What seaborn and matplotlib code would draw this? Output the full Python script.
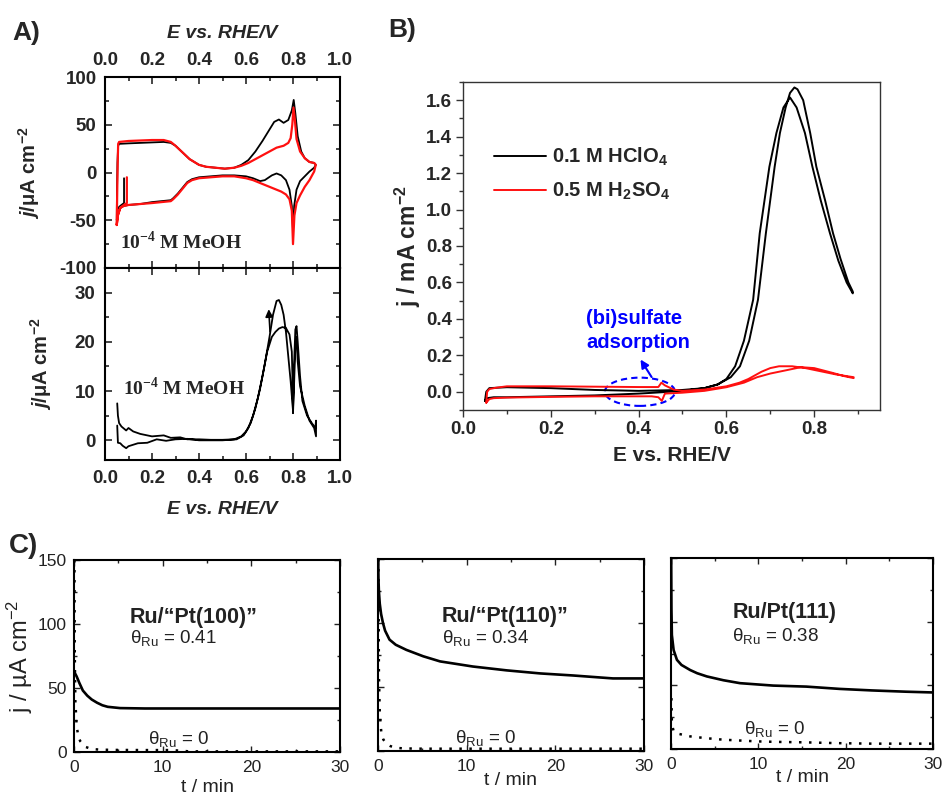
import numpy as np
import pandas as pd
import matplotlib
matplotlib.use("Agg")
import matplotlib.pyplot as plt
import seaborn as sns
from matplotlib.patches import Ellipse
from matplotlib.ticker import MultipleLocator

# ---------------------------------------------------------------- data
# (A, upper) blank voltammograms: E / V vs RHE, j / uA cm-2
cv_blank_black = [
    (0.081, -6), (0.081, -32), (0.07, -34), (0.06, -36), (0.054, -42), (0.050, -50),
    (0.051, -20), (0.053, 10), (0.056, 28), (0.06, 30), (0.10, 30.5), (0.15, 31), (0.20, 31.5),
    (0.25, 32), (0.28, 31), (0.30, 28), (0.33, 21), (0.36, 14), (0.40, 8), (0.43, 6),
    (0.47, 5), (0.51, 4), (0.55, 5), (0.58, 8), (0.61, 13), (0.64, 22), (0.67, 33),
    (0.70, 45), (0.72, 53), (0.74, 55.5), (0.76, 52), (0.78, 55), (0.795, 65), (0.803, 76),
    (0.81, 62), (0.82, 38), (0.835, 22), (0.85, 15), (0.87, 11), (0.89, 10), (0.897, 8),
    (0.89, 5), (0.87, 1), (0.85, -4), (0.83, -9), (0.815, -18), (0.805, -35), (0.800, -60),
    (0.795, -35), (0.785, -18), (0.77, -8), (0.75, -3), (0.73, -1), (0.71, -3), (0.68, -8),
    (0.66, -9), (0.63, -6), (0.60, -4), (0.55, -3), (0.50, -3), (0.45, -4), (0.40, -5),
    (0.37, -7), (0.35, -10), (0.33, -16), (0.31, -22), (0.29, -27), (0.28, -29), (0.20, -31),
    (0.15, -33), (0.10, -34), (0.08, -35), (0.065, -37), (0.058, -42), (0.052, -48), (0.050, -52),
]
cv_blank_red = [
    (0.093, -5), (0.093, -32), (0.08, -34), (0.065, -37), (0.055, -45), (0.050, -55),
    (0.052, -20), (0.054, 10), (0.056, 30), (0.06, 32), (0.10, 33), (0.15, 33.5), (0.20, 34),
    (0.25, 34), (0.28, 32), (0.30, 28), (0.33, 21), (0.36, 14), (0.40, 8), (0.43, 6),
    (0.47, 5), (0.51, 4), (0.55, 5), (0.58, 7), (0.61, 10), (0.64, 14), (0.67, 18),
    (0.70, 22), (0.73, 26), (0.76, 28), (0.78, 31), (0.79, 36), (0.797, 50), (0.802, 68),
    (0.808, 55), (0.815, 35), (0.83, 22), (0.85, 15), (0.87, 11), (0.89, 10), (0.897, 8),
    (0.89, 1), (0.87, -8), (0.85, -15), (0.83, -24), (0.815, -32), (0.806, -45), (0.800, -75),
    (0.795, -40), (0.785, -28), (0.77, -23), (0.75, -20), (0.72, -17), (0.69, -14), (0.66, -11),
    (0.63, -8), (0.60, -6), (0.55, -4), (0.50, -4), (0.45, -5), (0.40, -6), (0.37, -8),
    (0.35, -11), (0.33, -17), (0.31, -23), (0.29, -28), (0.28, -30), (0.20, -32), (0.15, -33),
    (0.10, -34), (0.08, -35), (0.065, -37), (0.055, -44), (0.050, -55),
]

# (A, lower) methanol oxidation, 1e-4 M MeOH
cv_meoh = [
    (0.052, 7.5), (0.055, 5), (0.06, 3.5), (0.07, 2.8), (0.09, 2), (0.10, 2.5), (0.12, 1.8),
    (0.15, 1.3), (0.20, 0.8), (0.25, 1.0), (0.28, 0.5), (0.32, 0.6), (0.35, 0.2), (0.40, 0.2),
    (0.45, 0.1), (0.50, 0.1), (0.55, 0.2), (0.58, 0.8), (0.60, 1.8), (0.62, 3.5), (0.64, 6.5),
    (0.66, 10.5), (0.68, 15.5), (0.70, 21), (0.715, 25.5), (0.73, 28.3), (0.74, 28.5),
    (0.75, 27.5), (0.76, 25.5), (0.77, 22), (0.78, 17), (0.79, 12), (0.80, 6), (0.802, 10),
    (0.805, 16), (0.81, 22.5), (0.815, 23.2), (0.82, 20), (0.83, 13), (0.84, 8), (0.86, 5),
    (0.88, 3.5), (0.895, 2.5), (0.898, 4),
    (0.898, 0.8), (0.89, 2.5), (0.87, 4), (0.85, 7), (0.83, 11), (0.82, 16), (0.815, 21),
    (0.81, 19), (0.805, 12), (0.80, 5.5), (0.798, 12), (0.795, 18), (0.785, 21.5), (0.77, 22.8),
    (0.755, 23), (0.74, 22.7), (0.725, 22), (0.71, 21), (0.69, 18), (0.67, 13), (0.65, 8.5),
    (0.63, 5), (0.61, 2.5), (0.59, 1), (0.56, 0.2), (0.50, 0), (0.40, 0), (0.35, 0.3),
    (0.30, 0.2), (0.26, -0.1), (0.22, 0.2), (0.18, -0.5), (0.14, -0.6), (0.10, -1.2),
    (0.09, -1.6), (0.075, -1.1), (0.065, -0.6), (0.055, -0.5), (0.052, 3),
]

# (B) j / mA cm-2 in the two electrolytes
cv_hclo4 = [
    (0.050, -0.05), (0.055, -0.035), (0.07, -0.03), (0.10, -0.03), (0.20, -0.025),
    (0.30, -0.02), (0.40, -0.01), (0.45, -0.003), (0.50, 0.005), (0.55, 0.02), (0.58, 0.04),
    (0.60, 0.07), (0.62, 0.14), (0.64, 0.28), (0.661, 0.505), (0.676, 0.87), (0.698, 1.235),
    (0.714, 1.42), (0.73, 1.56), (0.745, 1.615), (0.76, 1.56), (0.779, 1.42), (0.796, 1.235),
    (0.815, 1.05), (0.836, 0.87), (0.855, 0.72), (0.874, 0.60), (0.888, 0.54),
    (0.888, 0.55), (0.878, 0.60), (0.86, 0.73), (0.843, 0.87), (0.825, 1.05), (0.805, 1.235),
    (0.791, 1.42), (0.775, 1.60), (0.762, 1.66), (0.755, 1.67), (0.745, 1.64), (0.735, 1.56),
    (0.722, 1.42), (0.71, 1.235), (0.69, 0.87), (0.672, 0.505), (0.652, 0.28), (0.631, 0.14),
    (0.61, 0.08), (0.58, 0.04), (0.55, 0.02), (0.50, 0.01), (0.40, 0.005), (0.30, 0.01),
    (0.20, 0.02), (0.10, 0.025), (0.06, 0.02), (0.053, 0.0), (0.050, -0.05),
]
cv_h2so4 = [
    (0.053, -0.06), (0.055, 0.0), (0.06, 0.015), (0.075, 0.022), (0.10, 0.03), (0.20, 0.03),
    (0.30, 0.028), (0.40, 0.026), (0.445, 0.026), (0.452, 0.05), (0.46, 0.035), (0.48, 0.012),
    (0.50, 0.005), (0.55, 0.012), (0.60, 0.03), (0.63, 0.05), (0.65, 0.07), (0.68, 0.11),
    (0.70, 0.13), (0.72, 0.14), (0.75, 0.14), (0.78, 0.13), (0.80, 0.12), (0.85, 0.095),
    (0.89, 0.08),
    (0.89, 0.075), (0.87, 0.085), (0.84, 0.105), (0.80, 0.13), (0.77, 0.135), (0.74, 0.12),
    (0.70, 0.10), (0.67, 0.08), (0.64, 0.05), (0.60, 0.025), (0.55, 0.005), (0.50, -0.005),
    (0.46, -0.01), (0.453, -0.05), (0.445, -0.03), (0.43, -0.025), (0.30, -0.025),
    (0.20, -0.028), (0.10, -0.032), (0.07, -0.035), (0.06, -0.04), (0.053, -0.06),
]
legend_labels = ["0.1 M HClO$_4$", "0.5 M H$_2$SO$_4$"]

# (C) chronoamperometry: t / min, j / uA cm-2
ca_titles = ["Ru/\u201cPt(100)\u201d", "Ru/\u201cPt(110)\u201d", "Ru/Pt(111)"]
ca_theta = ["0.41", "0.34", "0.38"]
ca_t_ru = [
    [0, 0.3, 0.6, 1.0, 1.5, 2.0, 2.6, 3.2, 3.8, 4.5, 5.2, 8, 12, 16, 20, 25, 30],
    [0.02, 0.05, 0.1, 0.2, 0.35, 0.56, 0.8, 1.3, 2, 3.2, 5.1, 7, 10.7, 14.5, 18.3, 22, 26.5, 30],
    [0.02, 0.05, 0.1, 0.3, 0.68, 1.2, 2.2, 3, 4.1, 6, 7.9, 11.7, 15.5, 19.3, 23, 26.9, 30],
]
ca_j_ru = [
    [63, 59, 54, 48, 44, 41, 38.5, 36.5, 35.3, 34.8, 34.3, 34, 34, 34, 34, 34, 34],
    [150, 135, 125, 115, 107, 100, 94, 87, 83, 79, 74, 70, 66, 63, 60.6, 59, 56.7, 56.7],
    [150, 110, 89.5, 77.7, 70, 66, 62, 59.5, 57, 54, 51.7, 49.8, 49, 47.2, 46, 45, 44.4],
]
ca_t_pt = [
    [0.05, 0.08, 0.15, 0.3, 0.5, 0.7, 1.0, 1.3, 1.7, 2.2, 3, 5, 8, 11, 13, 20, 25, 30],
    [0.05, 0.1, 0.2, 0.38, 0.6, 0.94, 1.4, 2.1, 3, 5, 10, 15, 20, 25, 30],
    [0.05, 0.1, 0.3, 0.8, 2.2, 4, 6, 9.8, 12, 15.5, 19, 23, 26, 30],
]
ca_j_pt = [
    [150, 80, 40, 20, 12, 8.5, 6, 4, 3, 2.2, 1.8, 1.6, 1.5, 1.5, 0.5, 0.5, 0.5, 0.5],
    [150, 60, 30, 13.6, 9, 5.7, 3.8, 2.4, 2, 1.8, 1.8, 1.8, 1.8, 1.8, 1.8],
    [40, 20, 13.8, 12, 9.9, 8.5, 7.3, 6, 5.6, 5.2, 4.6, 4.2, 4.2, 4.2],
]

# tick values
a_xticks = [0.0, 0.2, 0.4, 0.6, 0.8, 1.0]
a_top_yticks = [-100, -50, 0, 50, 100]
a_bot_yticks = [0, 10, 20, 30]
b_xticks = [0.0, 0.2, 0.4, 0.6, 0.8]
b_yticks = [0.0, 0.2, 0.4, 0.6, 0.8, 1.0, 1.2, 1.4, 1.6]
c_xticks = [0, 10, 20, 30]
c_yticks = [0, 50, 100, 150]

# ---------------------------------------------------------------- style
sns.set_theme(style="ticks")
plt.rcParams["font.family"] = ["Liberation Sans", "DejaVu Sans"]
plt.rcParams["axes.unicode_minus"] = False
plt.rcParams["mathtext.fontset"] = "custom"
plt.rcParams["mathtext.rm"] = "Liberation Sans:bold"
plt.rcParams["mathtext.bf"] = "Liberation Sans:bold"
plt.rcParams["mathtext.it"] = "Liberation Sans:italic:bold"
plt.rcParams["mathtext.sf"] = "Liberation Sans"
plt.rcParams["mathtext.cal"] = "Liberation Serif:bold"

W, H = 943, 796
fig = plt.figure(figsize=(W / 100, H / 100), dpi=100)
fig.patch.set_facecolor("white")

A_YLABEL = "$j$/μA cm$^{-2}$"
C_YLABEL = "j / µA cm$^{\\mathsf{-2}}$"
THETA = "$\\mathsf{θ}_{\\mathsf{Ru}}$"
MEOH = "10$^{\\mathcal{-4}}$ M MeOH"


def box(l, t, r, b):
    return fig.add_axes([l / W, 1 - b / H, (r - l) / W, (b - t) / H])


def curve(ax, pts, color, lw=1.3, ls="-", label=None):
    df = pd.DataFrame(pts, columns=["E", "j"])
    sns.lineplot(data=df, x="E", y="j", sort=False, estimator=None, color=color,
                 lw=lw, linestyle=ls, ax=ax, label=label)
    if label is None and ax.get_legend() is not None:
        ax.get_legend().remove()


def fmt(vals, nd):
    return [f"{v:.{nd}f}" for v in vals]


def frame(ax, lw, color="black"):
    for s in ax.spines.values():
        s.set_visible(True)
        s.set_linewidth(lw)
        s.set_color(color)


# ---------------------------------------------------------------- A upper
ax1 = box(105, 77, 340, 268)
curve(ax1, cv_blank_black, "black", 1.3)
curve(ax1, cv_blank_red, "#ff1010", 1.6)
ax1.set_xlim(0, 1.0)
ax1.set_ylim(-100, 100)
ax1.set_xticks(a_xticks, labels=fmt(a_xticks, 1), fontsize=13.5, fontweight="bold")
ax1.set_yticks(a_top_yticks, labels=[str(v) for v in a_top_yticks], fontsize=13.5, fontweight="bold")
ax1.xaxis.set_minor_locator(MultipleLocator(0.1))
ax1.yaxis.set_minor_locator(MultipleLocator(25))
ax1.tick_params(which="both", direction="in", top=True, right=True, bottom=True, left=True,
                labeltop=True, labelbottom=False, width=1.2, pad=6)
ax1.tick_params(which="major", length=5)
ax1.tick_params(which="minor", length=3)
ax1.xaxis.set_label_position("top")
ax1.set_xlabel("E vs. RHE/V", fontsize=14, fontweight="bold", fontstyle="italic", labelpad=10)
ax1.set_ylabel(A_YLABEL, fontsize=14.5, fontweight="bold")
ax1.yaxis.set_label_coords(-0.27, 0.5)
ax1.text(0.065, -72, MEOH, family="Liberation Serif",
         fontsize=14, fontweight="bold", va="center", ha="left")
frame(ax1, 1.5)

# ---------------------------------------------------------------- A lower
ax2 = box(105, 268, 340, 460)
curve(ax2, cv_meoh, "black", 1.3)
ax2.annotate("", xy=(0.696, 27.2), xytext=(0.703, 21.5),
             arrowprops=dict(arrowstyle="-|>", color="black", lw=1.2, mutation_scale=11))
ax2.set_xlim(0, 1.0)
ax2.set_ylim(-4, 35)
ax2.set_xticks(a_xticks, labels=fmt(a_xticks, 1), fontsize=13.5, fontweight="bold")
ax2.set_yticks(a_bot_yticks, labels=[str(v) for v in a_bot_yticks], fontsize=13.5, fontweight="bold")
ax2.xaxis.set_minor_locator(MultipleLocator(0.1))
ax2.yaxis.set_minor_locator(MultipleLocator(5))
ax2.tick_params(which="both", direction="in", top=True, right=True, width=1.2, pad=7)
ax2.tick_params(which="major", length=5)
ax2.tick_params(which="minor", length=3)
ax2.set_xlabel("E vs. RHE/V", fontsize=14, fontweight="bold", fontstyle="italic", labelpad=10)
ax2.set_ylabel(A_YLABEL, fontsize=14.5, fontweight="bold")
ax2.yaxis.set_label_coords(-0.215, 0.5)
ax2.text(0.077, 10.7, MEOH, family="Liberation Serif",
         fontsize=14, fontweight="bold", va="center", ha="left")
frame(ax2, 1.5)

# ---------------------------------------------------------------- B
ax3 = box(463, 82, 880, 410)
curve(ax3, cv_hclo4, "black", 1.4, label=legend_labels[0])
curve(ax3, cv_h2so4, "#ff1010", 1.4, label=legend_labels[1])
ax3.set_xlim(0, 0.95)
ax3.set_ylim(-0.1, 1.7)
ax3.set_xticks(b_xticks, labels=fmt(b_xticks, 1), fontsize=13.5, fontweight="bold")
ax3.set_yticks(b_yticks, labels=fmt(b_yticks, 1), fontsize=13.5, fontweight="bold")
ax3.xaxis.set_minor_locator(MultipleLocator(0.1))
ax3.yaxis.set_minor_locator(MultipleLocator(0.1))
ax3.tick_params(which="both", direction="out", top=False, right=False, width=1.0, color="#333333")
ax3.tick_params(which="major", length=5, pad=3)
ax3.tick_params(which="minor", length=3)
ax3.set_xlabel("E vs. RHE/V", fontsize=15, fontweight="bold", labelpad=6)
ax3.set_ylabel("j / mA cm$^{-2}$", fontsize=16.5, fontweight="bold", labelpad=2)
frame(ax3, 1.0, "#333333")
ax3.legend(loc="upper left", bbox_to_anchor=(0.05, 0.835), frameon=False,
           prop=dict(family="Liberation Sans", weight="bold", size=14.5),
           handlelength=2.6, handletextpad=0.3, labelspacing=0.6, borderpad=0)
ax3.add_patch(Ellipse((0.403, 0.0), 0.16, 0.155, fill=False, ls=(0, (3, 2)),
                      edgecolor="blue", lw=1.5))
ax3.annotate("", xy=(0.401, 0.19), xytext=(0.433, 0.068),
             arrowprops=dict(arrowstyle="-|>", color="blue", lw=1.5, mutation_scale=12))
ax3.text(0.281, 0.335, "(bi)sulfate\nadsorption", color="blue", fontsize=14.5,
         fontweight="bold", va="center", ha="left", multialignment="left", linespacing=1.3)

# ---------------------------------------------------------------- C
c_boxes = [(74, 560, 340, 752), (378, 559, 644, 751), (671, 558, 933, 749)]
c_title_pos = [(6.3, 105), (7.2, 105), (7.0, 107.5)]
c_theta_pos = [(6.3, 89), (7.2, 88), (7.0, 89)]
c_zero_pos = [(8.3, 10), (8.7, 10), (8.4, 16)]
c_xlabel_y = [-0.185, -0.155, -0.147]
gray = "#222222"
for i, (l, t, r, b) in enumerate(c_boxes):
    ax = box(l, t, r, b)
    curve(ax, list(zip(ca_t_ru[i], ca_j_ru[i])), "black", 1.9)
    curve(ax, list(zip(ca_t_pt[i], ca_j_pt[i])), "black", 1.8, ls=(0, (1, 3)))
    ax.set_xlim(0, 30)
    ax.set_ylim(0, 150)
    ax.set_xticks(c_xticks, labels=[str(v) for v in c_xticks], fontsize=12.5, color=gray)
    if i == 0:
        ax.set_yticks(c_yticks, labels=[str(v) for v in c_yticks], fontsize=12.5, color=gray)
        ax.set_ylabel(C_YLABEL, fontsize=17, color=gray, labelpad=2)
    else:
        ax.set_yticks(c_yticks, labels=[])
        ax.set_ylabel("")
    ax.yaxis.set_minor_locator(MultipleLocator(25))
    ax.xaxis.set_minor_locator(MultipleLocator(5))
    ax.tick_params(which="both", direction="in", top=True, right=True, width=1.0, color=gray)
    ax.tick_params(axis="x", which="major", length=4, pad=6)
    ax.tick_params(axis="y", which="major", length=4, pad=5)
    ax.tick_params(which="minor", length=2)
    ax.set_xlabel("t / min", fontsize=14, color=gray)
    ax.xaxis.set_label_coords(0.5, c_xlabel_y[i])
    ax.xaxis.label.set_va("center")
    frame(ax, 1.5, "black")
    ax.text(*c_title_pos[i], ca_titles[i], fontsize=15.5, fontweight="bold", color=gray,
            va="center", ha="left")
    ax.text(*c_theta_pos[i], THETA + " = " + ca_theta[i], fontsize=13.5,
            color=gray, va="center", ha="left")
    ax.text(*c_zero_pos[i], THETA + " = 0", fontsize=13.5,
            color=gray, va="center", ha="left")

# ---------------------------------------------------------------- panel letters
fig.text(12 / W, 1 - 40 / H, "A)", fontsize=19, fontweight="bold", va="baseline")
fig.text(388 / W, 1 - 37 / H, "B)", fontsize=19, fontweight="bold", va="baseline")
fig.text(9 / W, 1 - 553 / H, "C)", fontsize=20, fontweight="bold", va="baseline")

fig.savefig("out.png", dpi=100, facecolor="white")
